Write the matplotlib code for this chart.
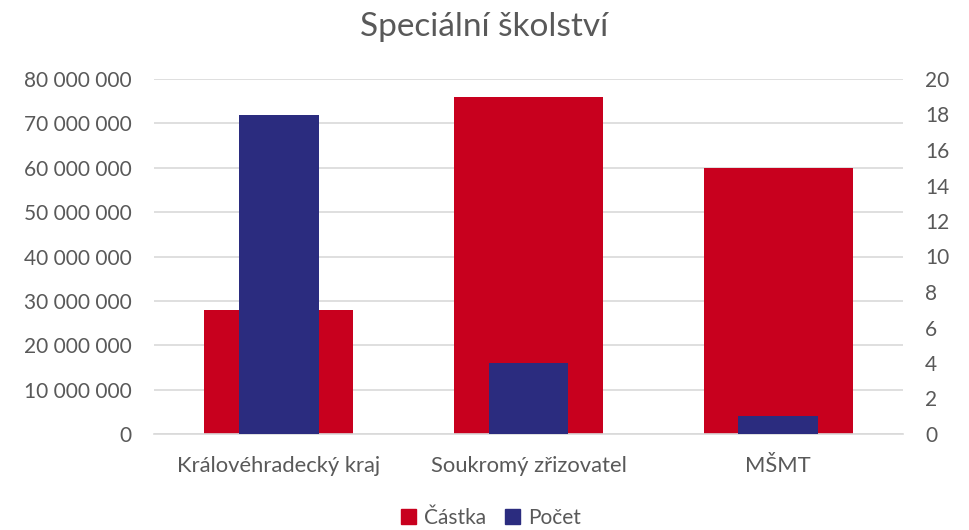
import matplotlib
matplotlib.use("Agg")
import matplotlib.pyplot as plt
from matplotlib.ticker import FuncFormatter, MultipleLocator
from matplotlib.patches import Patch
import numpy as np

categories = ["Královéhradecký kraj", "Soukromý zřizovatel", "MŠMT"]
castka = [28000000, 76000000, 60000000]
pocet = [18, 4, 1]

RED = "#C8001E"
BLUE = "#2B2C7F"
GRID = "#D9D9D9"
TXT = "#595959"
FONT = ["Lato", "DejaVu Sans"]

plt.rcParams["font.family"] = FONT

fig = plt.figure(figsize=(9.69, 5.30), dpi=100)
ax = fig.add_axes([154/969, 1-434/530, (903-154)/969, (434-79)/530])
ax2 = ax.twinx()

x = np.arange(len(categories))
ax.bar(x, castka, width=0.597, color=RED, zorder=2)
ax2.bar(x, pocet, width=0.32, color=BLUE, zorder=3)

ax.set_xlim(-0.5, 2.5)
ax.set_ylim(0, 80000000)
ax2.set_ylim(0, 20)
ax.yaxis.set_major_locator(MultipleLocator(10000000))
ax2.yaxis.set_major_locator(MultipleLocator(2))
ax.yaxis.set_major_formatter(FuncFormatter(lambda v, p: f"{int(v):,}".replace(",", " ")))

FS = 15
ax.grid(axis="y", color=GRID, linewidth=1.2, zorder=0)
ax.set_axisbelow(True)
for a in (ax, ax2):
    for s in a.spines.values():
        s.set_visible(False)
    a.tick_params(length=0, colors=TXT, labelsize=FS)
ax.spines["bottom"].set_visible(True)
ax.spines["bottom"].set_color(GRID)
ax.spines["bottom"].set_linewidth(1.2)
ax.set_xticks(x)
ax.set_xticklabels(categories, fontsize=15.8, color=TXT)
ax.tick_params(axis="x", pad=16)
ax.tick_params(axis="y", pad=16)
ax2.tick_params(axis="y", pad=16)

fig.text(0.5, 1-27/530, "Speciální školství", ha="center", va="center", fontsize=24, color=TXT)

handles = [Patch(color=RED, label="Částka"), Patch(color=BLUE, label="Počet")]
fig.legend(handles=handles, loc="center", bbox_to_anchor=(491/969, 1-518/530), ncol=2,
           frameon=False, fontsize=FS, labelcolor=TXT, handlelength=0.7, handleheight=0.7,
           handletextpad=0.4, columnspacing=0.9)

fig.savefig("out.png", dpi=100)
